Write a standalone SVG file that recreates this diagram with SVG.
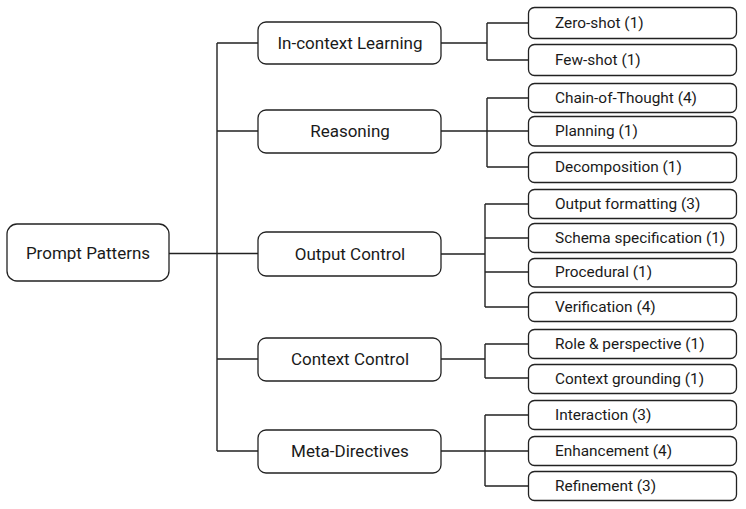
<svg xmlns="http://www.w3.org/2000/svg" width="746" height="509" viewBox="0 0 746 509">
<style>
.box{fill:#fff;stroke:#222;stroke-width:1.3}
.t1{font-family:Roboto,"Liberation Sans",Arial,sans-serif;font-size:17px;fill:#1a1a1a;text-anchor:middle;dominant-baseline:central}
.t2{font-family:Roboto,"Liberation Sans",Arial,sans-serif;font-size:15.4px;fill:#1a1a1a;dominant-baseline:central}
.ln{fill:none;stroke:#222;stroke-width:1.4}
</style>
<rect width="746" height="509" fill="#fff"/>
<g id="connectors">
<path class="ln" d="M169 253.5H258M217 43V451M217 43H258M217 131H258M217 359H258M217 451H258"/>
<path class="ln" d="M441 43H487M487 23V60M487 23H528M487 60H528"/>
<path class="ln" d="M441 131H528M487 98V167M487 98H528M487 167H528"/>
<path class="ln" d="M441 254H485M485 204V307M485 204H528M485 238H528M485 272H528M485 307H528"/>
<path class="ln" d="M441 359H485M485 344V378M485 344H528M485 378H528"/>
<path class="ln" d="M441 451H485M485 415V486M485 415H528M485 451H528M485 486H528"/>
</g>
<g id="root"><rect class="box" x="7" y="224" width="162" height="57" rx="10"/><text class="t1" x="88" y="253">Prompt Patterns</text></g>
<g id="in-context"><rect class="box" x="258" y="22" width="183" height="42" rx="8"/><text class="t1" x="350" y="43">In-context Learning</text></g>
<g id="reasoning"><rect class="box" x="258" y="110" width="183" height="43" rx="8"/><text class="t1" x="350" y="131">Reasoning</text></g>
<g id="output-control"><rect class="box" x="258" y="232" width="183" height="44" rx="8"/><text class="t1" x="350" y="254">Output Control</text></g>
<g id="context-control"><rect class="box" x="258" y="338" width="183" height="43" rx="8"/><text class="t1" x="350" y="359">Context Control</text></g>
<g id="meta-directives"><rect class="box" x="258" y="430" width="183" height="43" rx="8"/><text class="t1" x="350" y="451">Meta-Directives</text></g>
<g id="zero-shot"><rect class="box" x="528.5" y="7.5" width="208" height="31" rx="6"/><text class="t2" x="555" y="23">Zero-shot (1)</text></g>
<g id="few-shot"><rect class="box" x="528.5" y="44.5" width="208" height="31" rx="6"/><text class="t2" x="555" y="60">Few-shot (1)</text></g>
<g id="cot"><rect class="box" x="528.5" y="83.5" width="208" height="29" rx="6"/><text class="t2" x="555" y="98">Chain-of-Thought (4)</text></g>
<g id="planning"><rect class="box" x="528.5" y="116.5" width="208" height="29.5" rx="6"/><text class="t2" x="555" y="131">Planning (1)</text></g>
<g id="decomposition"><rect class="box" x="528.5" y="152.5" width="208" height="30" rx="6"/><text class="t2" x="555" y="167">Decomposition (1)</text></g>
<g id="output-formatting"><rect class="box" x="528.5" y="189.5" width="208" height="29" rx="6"/><text class="t2" x="555" y="204">Output formatting (3)</text></g>
<g id="schema"><rect class="box" x="528.5" y="223.5" width="208" height="29" rx="6"/><text class="t2" x="555" y="238">Schema specification (1)</text></g>
<g id="procedural"><rect class="box" x="528.5" y="258.5" width="208" height="28.5" rx="6"/><text class="t2" x="555" y="272">Procedural (1)</text></g>
<g id="verification"><rect class="box" x="528.5" y="292.5" width="208" height="29" rx="6"/><text class="t2" x="555" y="307">Verification (4)</text></g>
<g id="role"><rect class="box" x="528.5" y="329.5" width="208" height="29" rx="6"/><text class="t2" x="555" y="344">Role &amp; perspective (1)</text></g>
<g id="grounding"><rect class="box" x="528.5" y="364.5" width="208" height="29" rx="6"/><text class="t2" x="555" y="379">Context grounding (1)</text></g>
<g id="interaction"><rect class="box" x="528.5" y="400.5" width="208" height="29" rx="6"/><text class="t2" x="555" y="415">Interaction (3)</text></g>
<g id="enhancement"><rect class="box" x="528.5" y="436.5" width="208" height="29" rx="6"/><text class="t2" x="555" y="451">Enhancement (4)</text></g>
<g id="refinement"><rect class="box" x="528.5" y="471.5" width="208" height="29" rx="6"/><text class="t2" x="555" y="486">Refinement (3)</text></g>
</svg>
